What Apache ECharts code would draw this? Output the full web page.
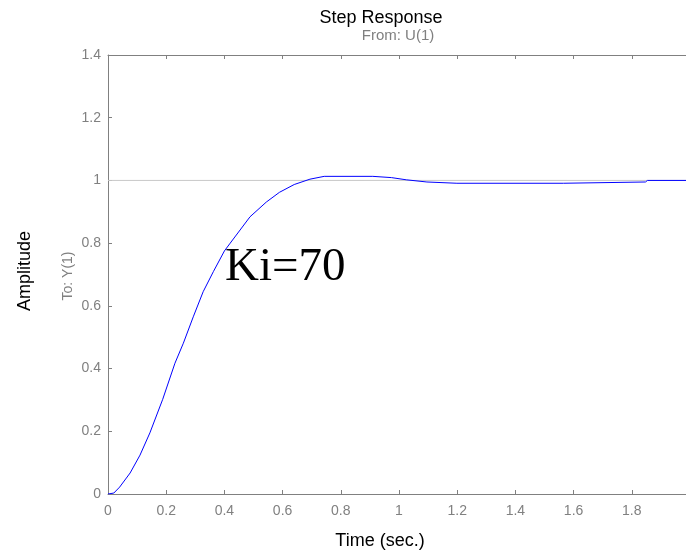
<!DOCTYPE html>
<html>
<head>
<meta charset="utf-8">
<script src="https://cdn.jsdelivr.net/npm/echarts@6/dist/echarts.min.js"></script>
<style>html,body{margin:0;padding:0;background:#fff}#c{width:686px;height:553px}</style>
</head>
<body>
<div id="c"></div>
<script>
var timeValues = [0, 0.02, 0.04, 0.076, 0.11, 0.144, 0.188, 0.23, 0.259, 0.293, 0.327, 0.362, 0.40, 0.42, 0.488, 0.544, 0.589, 0.64, 0.694, 0.743, 0.91, 0.974, 1.025, 1.096, 1.199, 1.565, 1.571, 1.847, 1.854, 1.99];
var amplitudeValues = [0, 0.003, 0.022, 0.067, 0.124, 0.195, 0.302, 0.417, 0.481, 0.565, 0.645, 0.709, 0.775, 0.80, 0.884, 0.931, 0.962, 0.987, 1.004, 1.013, 1.013, 1.009, 1.002, 0.995, 0.991, 0.991, 0.995, 0.995, 1.0, 1.0];
var xTicks = [0, 0.2, 0.4, 0.6, 0.8, 1, 1.2, 1.4, 1.6, 1.8];
var yTicks = [0, 0.2, 0.4, 0.6, 0.8, 1, 1.2, 1.4];
var steadyValue = 1;
var xMax = 1.9863;

var pts = timeValues.map(function (t, i) { return [t, amplitudeValues[i]]; });
var grey = '#808080';
var font = 'Liberation Sans, Arial, sans-serif';

function fmt(list) {
  return function (v) { var r = Math.round(v * 10) / 10; return (Math.abs(v - r) < 1e-6 && list.indexOf(r) >= 0) ? String(r) : ''; };
}

var chart = echarts.init(document.getElementById('c'), null, {renderer: 'canvas'});
chart.setOption({
  animation: false,
  backgroundColor: '#ffffff',
  grid: {left: 108, top: 55, bottom: 59, right: 0, containLabel: false},
  xAxis: [{
    type: 'value', min: 0, max: xMax, interval: 0.2, position: 'bottom',
    axisLine: {show: true, lineStyle: {color: grey, width: 1}},
    axisTick: {show: true, inside: true, length: 4, lineStyle: {color: grey}},
    axisLabel: {color: grey, fontSize: 14, fontFamily: font, margin: 10, showMaxLabel: false, formatter: fmt(xTicks)},
    splitLine: {show: false}
  }, {
    type: 'value', min: 0, max: xMax, interval: 0.2, position: 'top',
    axisLine: {show: true, onZero: false, lineStyle: {color: grey, width: 1}},
    axisTick: {show: true, inside: true, length: 4, lineStyle: {color: grey}},
    axisLabel: {show: false},
    splitLine: {show: false}
  }],
  yAxis: [{
    type: 'value', min: 0, max: 1.4, interval: 0.2,
    axisLine: {show: true, lineStyle: {color: grey, width: 1}},
    axisTick: {show: true, inside: true, length: 4, lineStyle: {color: grey}},
    axisLabel: {color: grey, fontSize: 14, fontFamily: font, margin: 7, formatter: fmt(yTicks)},
    splitLine: {show: false}
  }],
  series: [{
    type: 'line',
    z: 1,
    data: [[0, steadyValue], [xMax, steadyValue]],
    showSymbol: false,
    silent: true,
    lineStyle: {color: '#c8c8c8', width: 1},
    itemStyle: {color: '#c8c8c8'}
  }, {
    type: 'line',
    z: 2,
    data: pts,
    showSymbol: false,
    lineStyle: {color: '#0000ff', width: 1},
    itemStyle: {color: '#0000ff'}
  }],
  graphic: [
    {type: 'text', x: 381, y: 18, style: {text: 'Step Response', fill: '#000', font: '18px ' + font, textAlign: 'center', textVerticalAlign: 'middle'}},
    {type: 'text', x: 398, y: 36, style: {text: 'From: U(1)', fill: grey, font: '15px ' + font, textAlign: 'center', textVerticalAlign: 'middle'}},
    {type: 'text', x: 380, y: 541, style: {text: 'Time (sec.)', fill: '#000', font: '18px ' + font, textAlign: 'center', textVerticalAlign: 'middle'}},
    {type: 'text', x: 25, y: 271, rotation: Math.PI / 2, style: {text: 'Amplitude', fill: '#000', font: '18px ' + font, textAlign: 'center', textVerticalAlign: 'middle'}},
    {type: 'text', x: 68, y: 276, rotation: Math.PI / 2, style: {text: 'To: Y(1)', fill: grey, font: '14px ' + font, textAlign: 'center', textVerticalAlign: 'middle'}},
    {type: 'text', x: 225, y: 268, style: {text: 'Ki=70', fill: '#000', font: '47px Liberation Serif, Times New Roman, serif', textAlign: 'left', textVerticalAlign: 'middle'}}
  ]
});
</script>
</body>
</html>
